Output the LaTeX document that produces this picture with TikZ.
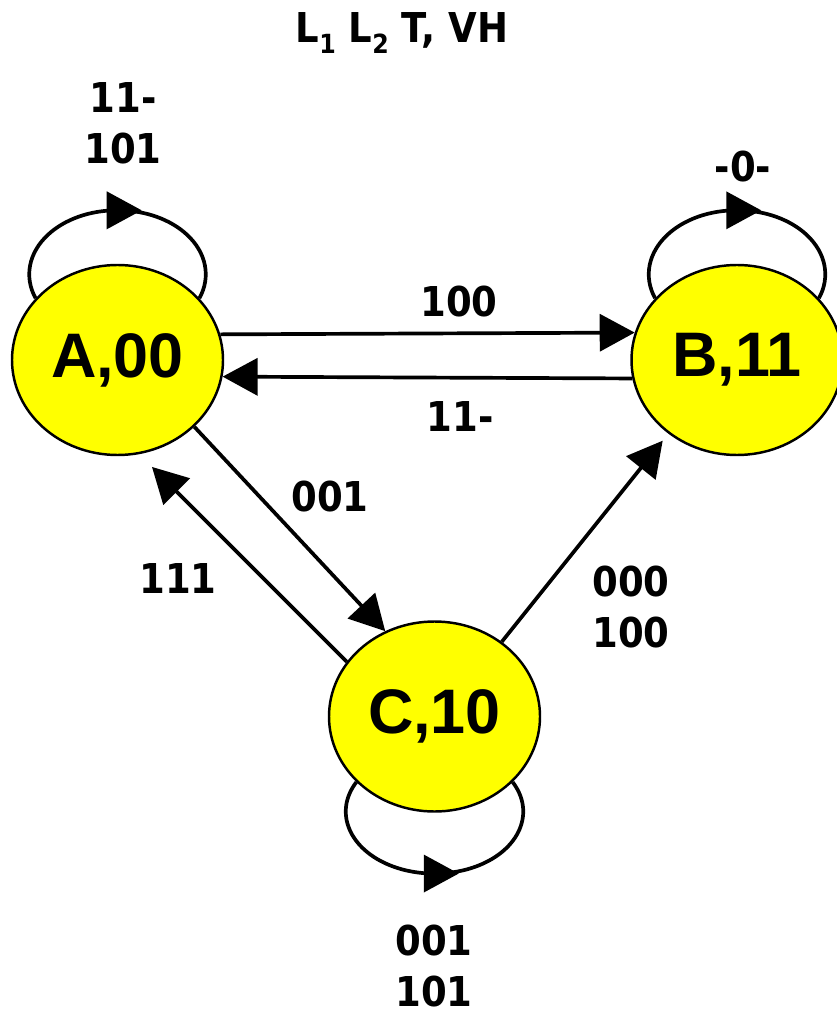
\documentclass[tikz,border=0pt]{standalone}
\usepackage{fontspec}
\newfontfamily\statefont{Liberation Sans}
\newfontfamily\lblfont{DejaVu Sans}[FakeStretch=0.9]
\usetikzlibrary{arrows.meta,shapes.geometric}
\definecolor{stateyellow}{RGB}{255,255,0}
\newcommand{\lsub}[1]{\raisebox{-2.85pt}{\fontsize{7.5}{8}\selectfont #1}}
\tikzset{
  state/.style={ellipse, draw, line width=0.7pt, fill=stateyellow, inner sep=0pt,
    minimum width=2.11cm, minimum height=1.9cm,
    font=\statefont\bfseries\fontsize{17.9}{20}\selectfont},
  lbl/.style={align=center, font=\lblfont\bfseries\fontsize{11.7}{14.5}\selectfont},
  selfloop/.style={x radius=.875, y radius=.64},
}
\begin{document}
\begin{tikzpicture}[>={Triangle[length=3.5mm, width=3.7mm]}, line width=1.05pt]
	\useasboundingbox (0,0) rectangle (8.36,-10.14);

	\node[state] (A) at (1.175,-3.6) {A,00};
	\node[state] (B) at (7.37,-3.6) {B,11};
	\node[state] (C) at (4.345,-7.165) {C,10};

	\node[lbl, anchor=base] (title) at (4.02,-0.43) {L\lsub{1} L\lsub{2} T, VH};

	% transitions
	\draw[->] (A.14.4) -- (B.165.6);
	\draw[->] (B.-170.1) -- (A.-9.9);
	\draw[->] (A.-41) -- (C.120);
	\draw[->, shorten >=1.8mm] (C.148) -- (A.-77);
	\draw[->, shorten >=.9mm] (C.48) -- (B.227.3);

	% self loops
	\draw[selfloop, ->] (A.143) arc[start angle=202, end angle=90] -- ++(.25,0);
	\draw[selfloop] (A.37) arc[start angle=-22, end angle=90];
	\draw[selfloop, ->] (B.143) arc[start angle=202, end angle=90] -- ++(.25,0);
	\draw[selfloop] (B.37) arc[start angle=-22, end angle=90];
	\draw[x radius=.88, y radius=.62, ->] (C.-140) arc[start angle=151.6, end angle=270] -- ++(.25,0);
	\draw[x radius=.88, y radius=.62] (C.-40) arc[start angle=28.4, end angle=-90];

	\node[lbl] (lAA) at (1.23,-1.23) {11-\\101};
	\node[lbl] (lBB) at (7.43,-1.665) {-0-};
	\node[lbl] (lAB) at (4.59,-3.02) {100};
	\node[lbl] (lBA) at (4.60,-4.17) {11-};
	\node[lbl] (lAC) at (3.30,-4.97) {001};
	\node[lbl] (lCA) at (1.78,-5.79) {111};
	\node[lbl] (lCB) at (6.31,-6.07) {000\\100};
	\node[lbl] (lCC) at (4.34,-9.66) {001\\101};
\end{tikzpicture}
\end{document}
